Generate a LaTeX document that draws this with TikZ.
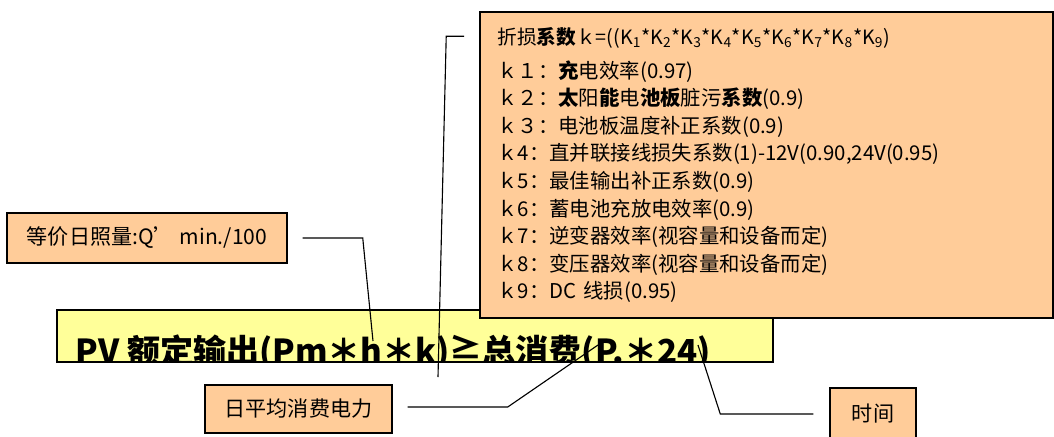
\documentclass[tikz,border=0pt]{standalone}
\usepackage{fontspec}
\setmainfont{Noto Sans CJK SC}
\usetikzlibrary{positioning,calc}

\definecolor{notefill}{RGB}{255,204,153}
\definecolor{pvfill}{RGB}{255,255,153}

\begin{document}
\begin{tikzpicture}[x=0.025cm, y=-0.025cm, line width=0.8pt,
    note/.style={draw, line width=1pt, fill=notefill, inner sep=0pt, align=center,
      font=\fontsize{15}{18}\selectfont},
    lead/.style={line width=0.8pt}]
        \useasboundingbox (0,0) rectangle (1054,436);

        % formula strip
        \node [draw, line width=1pt, fill=pvfill, minimum width=17.9cm, minimum height=1.3cm, inner sep=0pt] (pvbox) at (415,336) {};
        \begin{scope}
            \clip (pvbox.south west) rectangle (pvbox.north east);
            \node [anchor=base west, inner sep=0pt, font=\fontsize{23.5}{23.5}\bfseries] (formula) at (75,363) {PV 额定输出(Pm＊h＊k)≧总消费(P.＊24)};
        \end{scope}

        % loss factors
        \node [draw, line width=1pt, fill=notefill, minimum width=14.325cm, minimum height=7.65cm, inner xsep=0.425cm, text width=13.45cm, align=left,
               font=\fontsize{14.5}{19.6}\selectfont] (factors) at (766.5,165) {%
            {\fontsize{14}{19.6}\selectfont 折损\textbf{系数}ｋ=((K\textsubscript{1}*K\textsubscript{2}*K\textsubscript{3}*K\textsubscript{4}*K\textsubscript{5}*K\textsubscript{6}*K\textsubscript{7}*K\textsubscript{8}*K\textsubscript{9})}\\[4.5pt]
            ｋ１：\textbf{充}电效率(0.97)\\
            ｋ２：\textbf{太}阳\textbf{能}电\textbf{池板}脏污\textbf{系数}(0.9)\\
            ｋ３：电池板温度补正系数(0.9)\\
            ｋ4：直并联接线损失系数(1)-12V(0.90,24V(0.95)\\
            ｋ5：最佳输出补正系数(0.9)\\
            ｋ6：蓄电池充放电效率(0.9)\\
            ｋ7：逆变器效率(视容量和设备而定)\\
            ｋ8：变压器效率(视容量和设备而定)\\
            ｋ9：DC 线损(0.95)};

        % callouts
        \node [note, minimum width=7cm, minimum height=1.25cm] (sun) at (147,238) {等价日照量:Q’ min./100};
        \node [note, minimum width=4.675cm, minimum height=1.2cm] (daily) at (298.5,409) {日平均消费电力};
        \node [note, minimum width=2.15cm, minimum height=1.3cm] (time) at (873,414) {时间};

        \coordinate (hmark) at (373,341);
        \coordinate (kmark) at (438,377);
        \coordinate (pmark) at (598,345);
        \coordinate (tmark) at (698,345);

        \draw [lead] ($(sun.east)+(15,0)$) -- ++(60,0) -- (hmark);
        \draw [lead] ($(factors.north west)+(-15,25)$) -- ++(-18,0) -- (kmark);
        \draw [lead] ($(daily.east)+(15,-2)$) -- ++(100,0) -- (pmark);
        \draw [lead] ($(time.west)+(-16,0)$) -- ++(-93,0) -- (tmark);
    \end{tikzpicture}
\end{document}
